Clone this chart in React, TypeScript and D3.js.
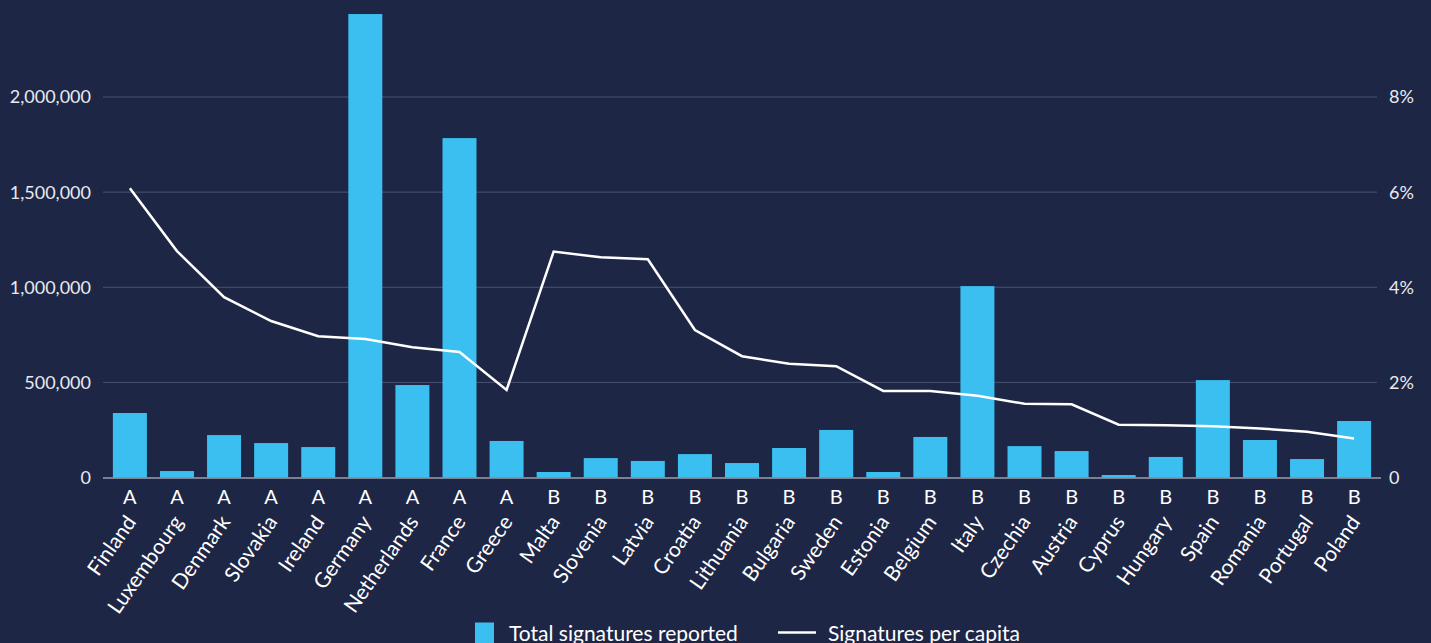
import React, { useEffect, useRef } from "react";
import * as d3 from "d3";

const countries = ["Finland","Luxembourg","Denmark","Slovakia","Ireland","Germany","Netherlands","France","Greece","Malta","Slovenia","Latvia","Croatia","Lithuania","Bulgaria","Sweden","Estonia","Belgium","Italy","Czechia","Austria","Cyprus","Hungary","Spain","Romania","Portugal","Poland"];
const groups = ["A","A","A","A","A","A","A","A","A","B","B","B","B","B","B","B","B","B","B","B","B","B","B","B","B","B","B"];
const totalSignatures = [339000,34000,223000,181000,160000,2436000,486000,1784000,192000,29000,102000,87000,123000,76000,155000,250000,29000,213000,1006000,165000,139000,13000,108000,512000,197000,97000,297000];
const perCapita = [6.08,4.76,3.79,3.29,2.97,2.91,2.74,2.64,1.84,4.75,4.63,4.59,3.10,2.55,2.39,2.34,1.82,1.82,1.72,1.55,1.54,1.11,1.10,1.08,1.03,0.96,0.82];
const leftTicks = [0,500000,1000000,1500000,2000000];
const rightTicks = [0,2,4,6,8];
const legendLabels = ["Total signatures reported","Signatures per capita"];

const W = 1431, H = 643;
const BG = "#1e2646";
const BAR = "#3bbff0";
const GRID = "#4b5372";
const FONT = "Lato, 'Noto Sans', sans-serif";

export default function App() {
  const ref = useRef<SVGSVGElement>(null);
  useEffect(() => {
    document.body.style.margin = "0";
    const svg = d3.select(ref.current);
    svg.selectAll("*").remove();
    svg.append("rect").attr("width", W).attr("height", H).attr("fill", BG);

    const x = d3.scaleBand<string>().domain(countries).range([103, 1381]).paddingInner(0.278).paddingOuter(0.21);
    const y = d3.scaleLinear().domain([0, 2000000]).range([477.5, 97]);
    const yr = d3.scaleLinear().domain([0, 8]).range([477.5, 97]);

    // grid
    svg.append("g").selectAll("line").data(leftTicks.slice(1)).join("line")
      .attr("x1", 103).attr("x2", 1377)
      .attr("y1", d => y(d)).attr("y2", d => y(d))
      .attr("stroke", GRID).attr("stroke-width", 1);

    // left labels
    svg.append("g").selectAll("text").data(leftTicks).join("text")
      .attr("x", 91).attr("y", d => y(d)).attr("dy", "0.36em")
      .attr("text-anchor", "end").attr("fill", "#e8eaf0")
      .attr("font-family", FONT).attr("font-size", 18)
      .text(d => d3.format(",")(d));

    // right labels
    svg.append("g").selectAll("text").data(rightTicks).join("text")
      .attr("x", 1389).attr("y", d => yr(d)).attr("dy", "0.36em")
      .attr("text-anchor", "start").attr("fill", "#e8eaf0")
      .attr("font-family", FONT).attr("font-size", 18)
      .text(d => d === 0 ? "0" : d + "%");

    // bars
    svg.append("g").selectAll("rect").data(countries).join("rect")
      .attr("x", d => x(d)!).attr("width", x.bandwidth())
      .attr("y", (d, i) => y(totalSignatures[i]))
      .attr("height", (d, i) => y(0) - y(totalSignatures[i]))
      .attr("fill", BAR);

    // baseline
    svg.append("line").attr("x1", 103).attr("x2", 1381).attr("y1", 478).attr("y2", 478)
      .attr("stroke", "#9aa0b0").attr("stroke-width", 1.5);

    // line
    const line = d3.line<number>()
      .x((d, i) => x(countries[i])! + x.bandwidth() / 2)
      .y(d => yr(d));
    svg.append("path").datum(perCapita).attr("d", line)
      .attr("fill", "none").attr("stroke", "#ffffff").attr("stroke-width", 2.5)
      .attr("stroke-linejoin", "miter");

    // group letters
    svg.append("g").selectAll("text").data(countries).join("text")
      .attr("x", d => x(d)! + x.bandwidth() / 2).attr("y", 504)
      .attr("text-anchor", "middle").attr("fill", "#ffffff")
      .attr("font-family", FONT).attr("font-size", 20)
      .text((d, i) => groups[i]);

    // country labels
    svg.append("g").selectAll("text").data(countries).join("text")
      .attr("transform", d => `translate(${x(d)! + x.bandwidth() / 2 + 7},${522}) rotate(-55)`)
      .attr("text-anchor", "end").attr("fill", "#ffffff")
      .attr("font-family", FONT).attr("font-size", 21)
      .text(d => d);

    // legend
    const lg = svg.append("g");
    lg.append("rect").attr("x", 475).attr("y", 622.5).attr("width", 19).attr("height", 21).attr("fill", BAR);
    lg.append("text").attr("x", 509).attr("y", 641).attr("fill", "#ffffff")
      .attr("font-family", FONT).attr("font-size", 21).text(legendLabels[0]);
    lg.append("line").attr("x1", 778).attr("x2", 816).attr("y1", 632.5).attr("y2", 632.5)
      .attr("stroke", "#ffffff").attr("stroke-width", 2.5);
    lg.append("text").attr("x", 828).attr("y", 641).attr("fill", "#ffffff")
      .attr("font-family", FONT).attr("font-size", 21).text(legendLabels[1]);
  }, []);
  return <svg ref={ref} width={W} height={H} style={{ display: "block", position: "absolute", left: 0, top: 0 }} />;
}
